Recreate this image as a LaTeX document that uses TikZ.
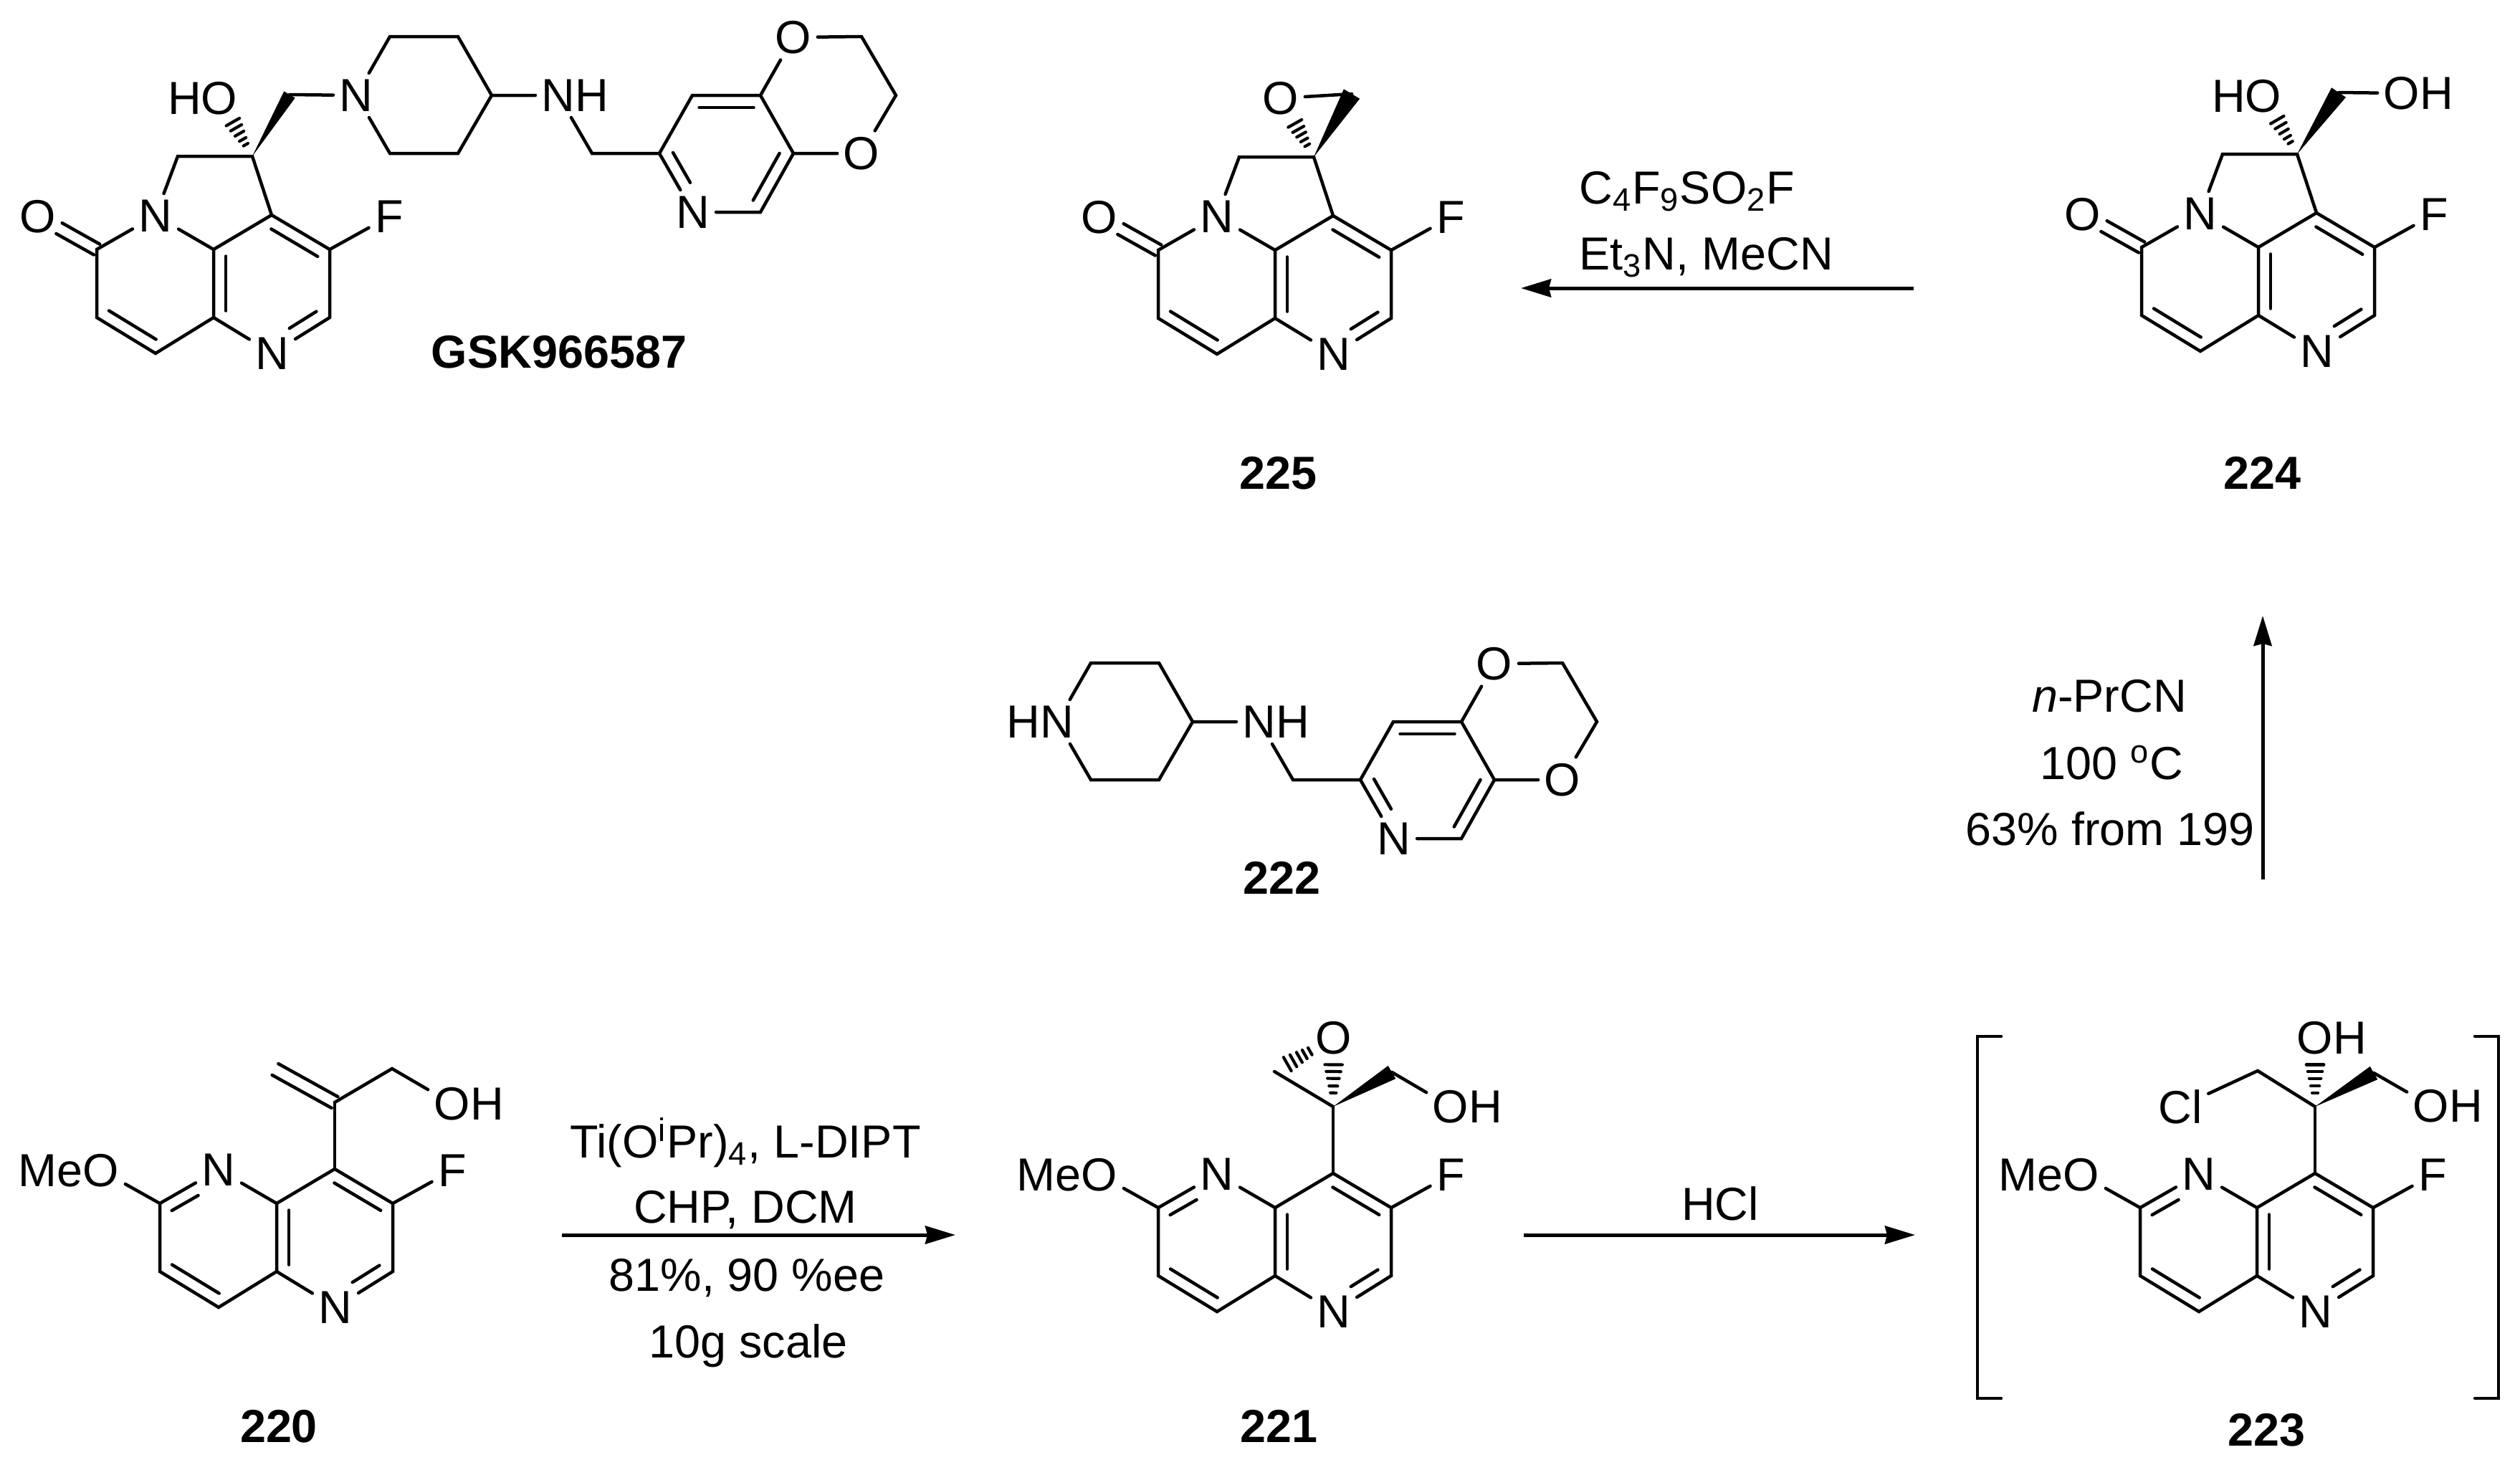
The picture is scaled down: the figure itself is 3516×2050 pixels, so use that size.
\documentclass[tikz,border=0pt]{standalone}
\usepackage{fontspec}
\setmainfont{Liberation Sans}
\usetikzlibrary{arrows.meta,calc}
\tikzset{
    bond/.style={line width=0.045cm,line cap=round},
    hash/.style={line width=0.042cm,line cap=round},
    atom/.style={inner sep=0.08cm,font=\fontsize{18.4}{22}\selectfont},
    tag/.style={inner sep=0pt,font=\fontsize{18.4}{22}\selectfont\bfseries},
    reagent/.style={inner sep=0pt,anchor=base,font=\fontsize{18.4}{22}\selectfont},
    rxn/.style={line width=0.05cm,-{Stealth[length=0.42cm,width=0.25cm,inset=0.03cm]}},
}
\newcommand{\innerbond}[5]{\draw[bond] ($(#1)!#4!(#2)!#3cm!90:(#2)$)--($(#2)!#5!(#1)!#3cm!-90:(#1)$);}
\newcommand{\wedgebond}[3]{\fill (#1)--($(#2)!#3cm!90:(#1)$)--($(#2)!#3cm!-90:(#1)$)--cycle;}
\newcommand{\hashbond}[4]{
    \foreach \i in {#3}{
        \draw[hash] ($(#1)!\i!(#2)!\i*#4cm!90:(#2)$)--($(#1)!\i!(#2)!\i*#4cm!-90:(#2)$);
    }
}
\newcommand{\corering}[4]{
    \begin{scope}[shift={(#2,#3)}]
        \coordinate (#1a) at (0,0);
        \coordinate (#1b) at (0,95);
        \coordinate (#1c) at (-81,145);
        \coordinate (#1d) at (-163,95);
        \coordinate (#1e) at (-163,0);
        \coordinate (#1h) at (162,95);
        \coordinate (#1i) at (162,0);
        \coordinate (#1j) at (81,-48);
        \node[atom] (#1n) at (-81,-47) {N};
        \node[atom] (#1m) at (82,145) {N};
        \node[atom] (#1f) at (245,-46) {F};
        \node[atom] (#1o) at (-245,-46) {#4};
        \draw[bond] (#1n)--(#1a)--(#1b)--(#1m);
        \draw[bond] (#1n)--(#1e)--(#1d)--(#1c)--(#1b);
        \draw[bond] (#1m)--(#1h)--(#1i)--(#1j)--(#1a);
        \draw[bond] (#1i)--(#1f);
        \innerbond{#1a}{#1b}{.17}{.1}{.1}
        \innerbond{#1d}{#1c}{.17}{.1}{.1}
        \innerbond{#1m}{#1h}{.17}{.41}{.12}
        \innerbond{#1i}{#1j}{.17}{.1}{.1}
    \end{scope}
}
\newcommand{\pyrrcore}[3]{
    \corering{#1}{#2}{#3}{O}
    \begin{scope}[shift={(#2,#3)}]
        \coordinate (#1p) at (-50,-130);
        \coordinate (#1q) at (54,-130);
        \draw[bond] (#1n)--(#1p)--(#1q)--(#1j);
        \innerbond{#1e}{#1o}{.085}{0}{.36}
        \innerbond{#1e}{#1o}{-.085}{0}{.36}
    \end{scope}
}
\newcommand{\methcore}[3]{
    \corering{#1}{#2}{#3}{\llap{Me}O}
    \begin{scope}[shift={(#2,#3)}]
        \coordinate (#1q) at (81,-141);
        \draw[bond] (#1e)--(#1o);
        \draw[bond] (#1j)--(#1q);
        \innerbond{#1n}{#1e}{.17}{.45}{.1}
    \end{scope}
}
\newcommand{\sidechain}[4]{
    \begin{scope}[shift={(#2,#3)}]
        \node[atom] (#1n) at (0,0) {#4};
        \coordinate (#1a) at (47,-82);
        \coordinate (#1b) at (142,-82);
        \coordinate (#1c) at (189,0);
        \coordinate (#1d) at (142,81);
        \coordinate (#1e) at (47,81);
        \node[atom] (#1h) at (282,0) {N\rlap{H}};
        \coordinate (#1k) at (329,81);
        \coordinate (#1m) at (423,81);
        \coordinate (#1r) at (469,0);
        \coordinate (#1s) at (564,0);
        \coordinate (#1t) at (610,81);
        \coordinate (#1u) at (564,163);
        \node[atom] (#1y) at (470,163) {N};
        \node[atom] (#1o) at (610,-81) {O};
        \coordinate (#1v) at (705,-82);
        \coordinate (#1w) at (753,0);
        \node[atom] (#1z) at (705,81) {O};
        \draw[bond] (#1n)--(#1a)--(#1b)--(#1c)--(#1d)--(#1e)--(#1n);
        \draw[bond] (#1c)--(#1h)--(#1k)--(#1m)--(#1r)--(#1s)--(#1t)--(#1u)--(#1y)--(#1m);
        \draw[bond] (#1s)--(#1o)--(#1v)--(#1w)--(#1z)--(#1t);
        \innerbond{#1s}{#1r}{.17}{.1}{.1}
        \innerbond{#1m}{#1y}{.17}{.09}{.4}
        \innerbond{#1u}{#1t}{.17}{.1}{.1}
    \end{scope}
}
\begin{document}
\begin{tikzpicture}[x={(0.01cm,0cm)},y={(0cm,-0.01cm)}]
    \useasboundingbox (0,0) rectangle (3516,2050);

    \pyrrcore{g}{298}{348}
    \sidechain{gs}{497}{133}{N}
    \node[atom] (gho) at (306,137) {\llap{H}O};
    \coordinate (gt) at (404,132);
    \wedgebond{gq}{gt}{.09}
    \hashbond{gq}{gho}{.2,.29,.39,.49,.59}{.18}
    \draw[bond] (gt)--(gsn);
    \node[tag] (lgsk) at (780,491) {GSK966587};

    \pyrrcore{e}{1779}{349}
    \node[atom] (eo) at (1787,137) {O};
    \coordinate (et) at (1886,131);
    \wedgebond{eq}{et}{.13}
    \hashbond{eq}{eo}{.2,.29,.38,.47,.57}{.19}
    \draw[bond] (eo)--(et);
    \node[tag] (l225) at (1783,660) {225};

    \pyrrcore{d}{3151}{345}
    \node[atom] (dho) at (3158,134) {\llap{H}O};
    \node[atom] (doh) at (3351,130) {O\rlap{H}};
    \coordinate (dt) at (3263,129);
    \wedgebond{dq}{dt}{.12}
    \hashbond{dq}{dho}{.2,.29,.39,.49,.59}{.18}
    \draw[bond] (dt)--(doh);
    \node[tag] (l224) at (3156,660) {224};

    \sidechain{p}{1475}{1007}{\llap{H}N}
    \node[tag] (l222) at (1788,1225) {222};

    \methcore{a}{386}{1679}
    \node[atom] (aoh) at (631,1540) {O\rlap{H}};
    \coordinate (at) at (384,1492);
    \coordinate (ak) at (547,1491);
    \draw[bond] (aq)--(ak)--(aoh);
    \innerbond{aq}{at}{.09}{0}{0}
    \innerbond{aq}{at}{-.09}{0}{0}
    \node[tag] (l220) at (389,1990) {220};

    \methcore{b}{1779}{1685}
    \node[atom] (bo) at (1861,1448) {O};
    \node[atom] (boh) at (2024,1544) {O\rlap{H}};
    \coordinate (bk) at (1778,1495);
    \coordinate (bt) at (1942,1496);
    \draw[bond] (bq)--(bk);
    \wedgebond{bq}{bt}{.105}
    \hashbond{bq}{bo}{.2,.3,.41,.51,.61}{.2}
    \hashbond{bo}{bk}{.4,.49,.58,.68,.78}{.14}
    \draw[bond] (bt)--(boh);
    \node[tag] (l221) at (1784,1990) {221};

    \methcore{c}{3149}{1685}
    \node[atom] (coh) at (3230,1448) {O\rlap{H}};
    \node[atom] (ccl) at (3042,1544) {Cl};
    \node[atom] (cor) at (3392,1543) {O\rlap{H}};
    \coordinate (ck) at (3150,1494);
    \coordinate (ct) at (3312,1497);
    \draw[bond] (cq)--(ck)--(ccl);
    \wedgebond{cq}{ct}{.105}
    \hashbond{cq}{coh}{.2,.3,.41,.51,.61}{.2}
    \draw[bond] (ct)--(cor);
    \draw[bond] (2792,1446)--(2759,1446)--(2759,1951)--(2792,1951);
    \draw[bond] (3453,1446)--(3486,1446)--(3486,1951)--(3453,1951);
    \node[tag] (l223) at (3162,1995) {223};

    \coordinate (r1s) at (784,1723);
    \coordinate (r1e) at (1333,1723);
    \draw[rxn] (r1s)--(r1e);
    \node[reagent] (r1a) at (1040,1615) {Ti(O\textsuperscript{i}Pr)\textsubscript{4}, L-DIPT};
    \node[reagent] (r1b) at (1040,1706) {CHP, DCM};
    \node[reagent] (r1c) at (1042,1801) {81\%, 90 \%ee};
    \node[reagent] (r1d) at (1044,1894) {10g scale};

    \coordinate (r2s) at (2126,1723);
    \coordinate (r2e) at (2672,1723);
    \draw[rxn] (r2s)--(r2e);
    \node[reagent] (r2a) at (2400,1702) {HCl};

    \coordinate (r3s) at (3157,1227);
    \coordinate (r3e) at (3157,859);
    \draw[rxn] (r3s)--(r3e);
    \node[reagent] (r3a) at (2943,993) {\textit{n}-PrCN};
    \node[reagent] (r3b) at (2946,1087) {100 \textsuperscript{o}C};
    \node[reagent] (r3c) at (2944,1179) {63\% from 199};

    \coordinate (r4s) at (2670,402);
    \coordinate (r4e) at (2122,402);
    \draw[rxn] (r4s)--(r4e);
    \node[reagent,anchor=base west] (r4a) at (2203,284) {C\textsubscript{4}F\textsubscript{9}SO\textsubscript{2}F};
    \node[reagent,anchor=base west] (r4b) at (2203,376) {Et\textsubscript{3}N, MeCN};
\end{tikzpicture}
\end{document}
